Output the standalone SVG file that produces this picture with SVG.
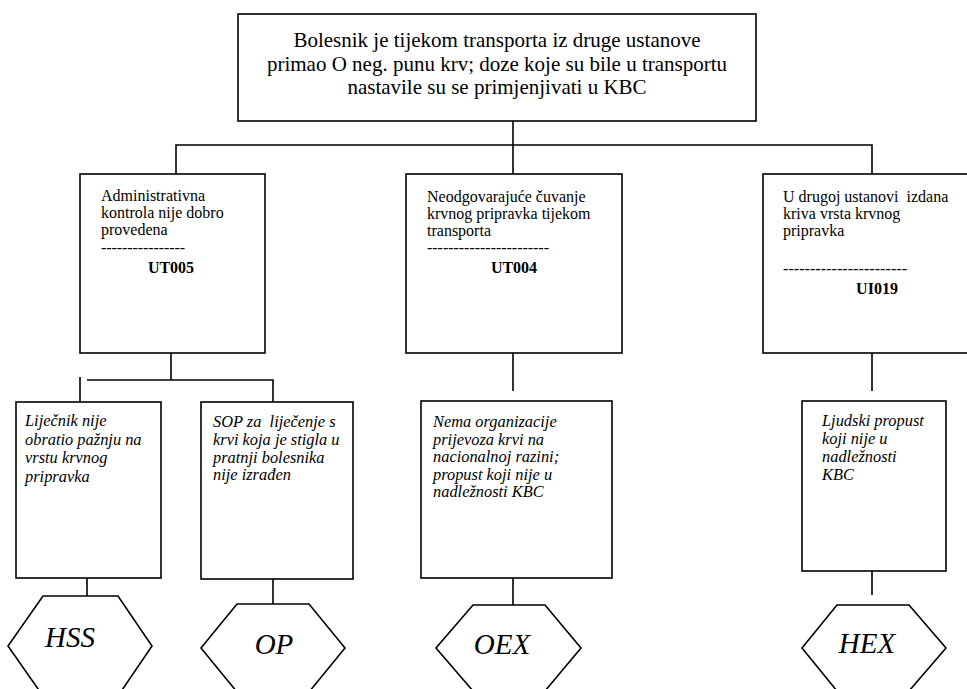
<svg xmlns="http://www.w3.org/2000/svg" width="967" height="689" viewBox="0 0 967 689">
<style>
.box{fill:#fff;stroke:#000;stroke-width:1.6}
.hex{fill:#fff;stroke:#000;stroke-width:1.6}
.ln{fill:none;stroke:#000;stroke-width:1.6}
text{font-family:"Liberation Serif","Times New Roman",serif;fill:#000}
.t{font-size:21px}
.n{font-size:16px}
.b{font-size:16px;font-weight:bold}
.i{font-size:16.4px;font-style:italic}
.h{font-size:29px;font-style:italic}
</style>
<rect width="967" height="689" fill="#fff"/>
<g id="connectors">
<path class="ln" d="M513 121V145M176 174V145H872V174M513 145V174"/>
<path class="ln" d="M171 353V380M87 380H273V402M80 377V402"/>
<path class="ln" d="M513 353V391M872 353V391"/>
<path class="ln" d="M87 578V596M273 579V604M513 578V605M872 571V595"/>
</g>
<g id="top">
<rect class="box" x="238" y="14" width="518" height="107"/>
<text class="t" text-anchor="middle" x="497" y="47">Bolesnik je tijekom transporta iz druge ustanove</text>
<text class="t" text-anchor="middle" x="497" y="71">primao O neg. punu krv; doze koje su bile u transportu</text>
<text class="t" text-anchor="middle" x="497" y="94">nastavile su se primjenjivati u KBC</text>
</g>
<g id="ut005">
<rect class="box" x="80" y="174" width="185" height="179"/>
<text class="n" x="101" y="201">Administrativna</text>
<text class="n" x="101" y="218">kontrola nije dobro</text>
<text class="n" x="101" y="235">provedena</text>
<text class="n" x="101" y="253" textLength="84" lengthAdjust="spacing">----------------</text>
<text class="b" text-anchor="middle" x="171" y="273">UT005</text>
</g>
<g id="ut004">
<rect class="box" x="406" y="174" width="216" height="179"/>
<text class="n" x="427" y="202">Neodgovarajuće čuvanje</text>
<text class="n" x="427" y="219">krvnog pripravka tijekom</text>
<text class="n" x="427" y="236">transporta</text>
<text class="n" x="427" y="253" textLength="122" lengthAdjust="spacing">-----------------------</text>
<text class="b" text-anchor="middle" x="514" y="273">UT004</text>
</g>
<g id="ui019">
<rect class="box" x="763" y="174" width="220" height="179"/>
<text class="n" x="783" y="202" xml:space="preserve">U drugoj ustanovi  izdana</text>
<text class="n" x="783" y="219">kriva vrsta krvnog</text>
<text class="n" x="783" y="236">pripravka</text>
<text class="n" x="783" y="274" textLength="124" lengthAdjust="spacing">-----------------------</text>
<text class="b" text-anchor="middle" x="877" y="294">UI019</text>
</g>
<g id="c1">
<rect class="box" x="16" y="402" width="145" height="176"/>
<text class="i" x="25" y="426">Liječnik nije</text>
<text class="i" x="25" y="444.5">obratio pažnju na</text>
<text class="i" x="25" y="463">vrstu krvnog</text>
<text class="i" x="25" y="481.5">pripravka</text>
</g>
<g id="c2">
<rect class="box" x="201" y="402" width="152" height="177"/>
<text class="i" x="213" y="427" xml:space="preserve">SOP za  liječenje s</text>
<text class="i" x="213" y="445">krvi koja je stigla u</text>
<text class="i" x="213" y="462.5">pratnji bolesnika</text>
<text class="i" x="213" y="480">nije izrađen</text>
</g>
<g id="c3">
<rect class="box" x="421" y="401" width="191" height="177"/>
<text class="i" x="433" y="427">Nema organizacije</text>
<text class="i" x="433" y="444.5">prijevoza krvi na</text>
<text class="i" x="433" y="462">nacionalnoj razini;</text>
<text class="i" x="433" y="479.5">propust koji nije u</text>
<text class="i" x="433" y="497">nadležnosti KBC</text>
</g>
<g id="c4">
<rect class="box" x="802" y="401" width="144" height="170"/>
<text class="i" x="822" y="426">Ljudski propust</text>
<text class="i" x="822" y="444">koji nije u</text>
<text class="i" x="822" y="462">nadležnosti</text>
<text class="i" x="822" y="480">KBC</text>
</g>
<g id="hss">
<polygon class="hex" points="43,596 118,596 152,646 118,696 43,696 8,646"/>
<text class="h" text-anchor="middle" x="70" y="647">HSS</text>
</g>
<g id="op">
<polygon class="hex" points="237,604 309,604 345,648 309,692 237,692 201,648"/>
<text class="h" text-anchor="middle" x="274" y="654">OP</text>
</g>
<g id="oex">
<polygon class="hex" points="473,605 545,605 581,648 545,691 473,691 436,648"/>
<text class="h" text-anchor="middle" x="502" y="654">OEX</text>
</g>
<g id="hex">
<polygon class="hex" points="837,605 909,605 946,648 909,691 837,691 802,648"/>
<text class="h" text-anchor="middle" x="867" y="653">HEX</text>
</g>
</svg>
